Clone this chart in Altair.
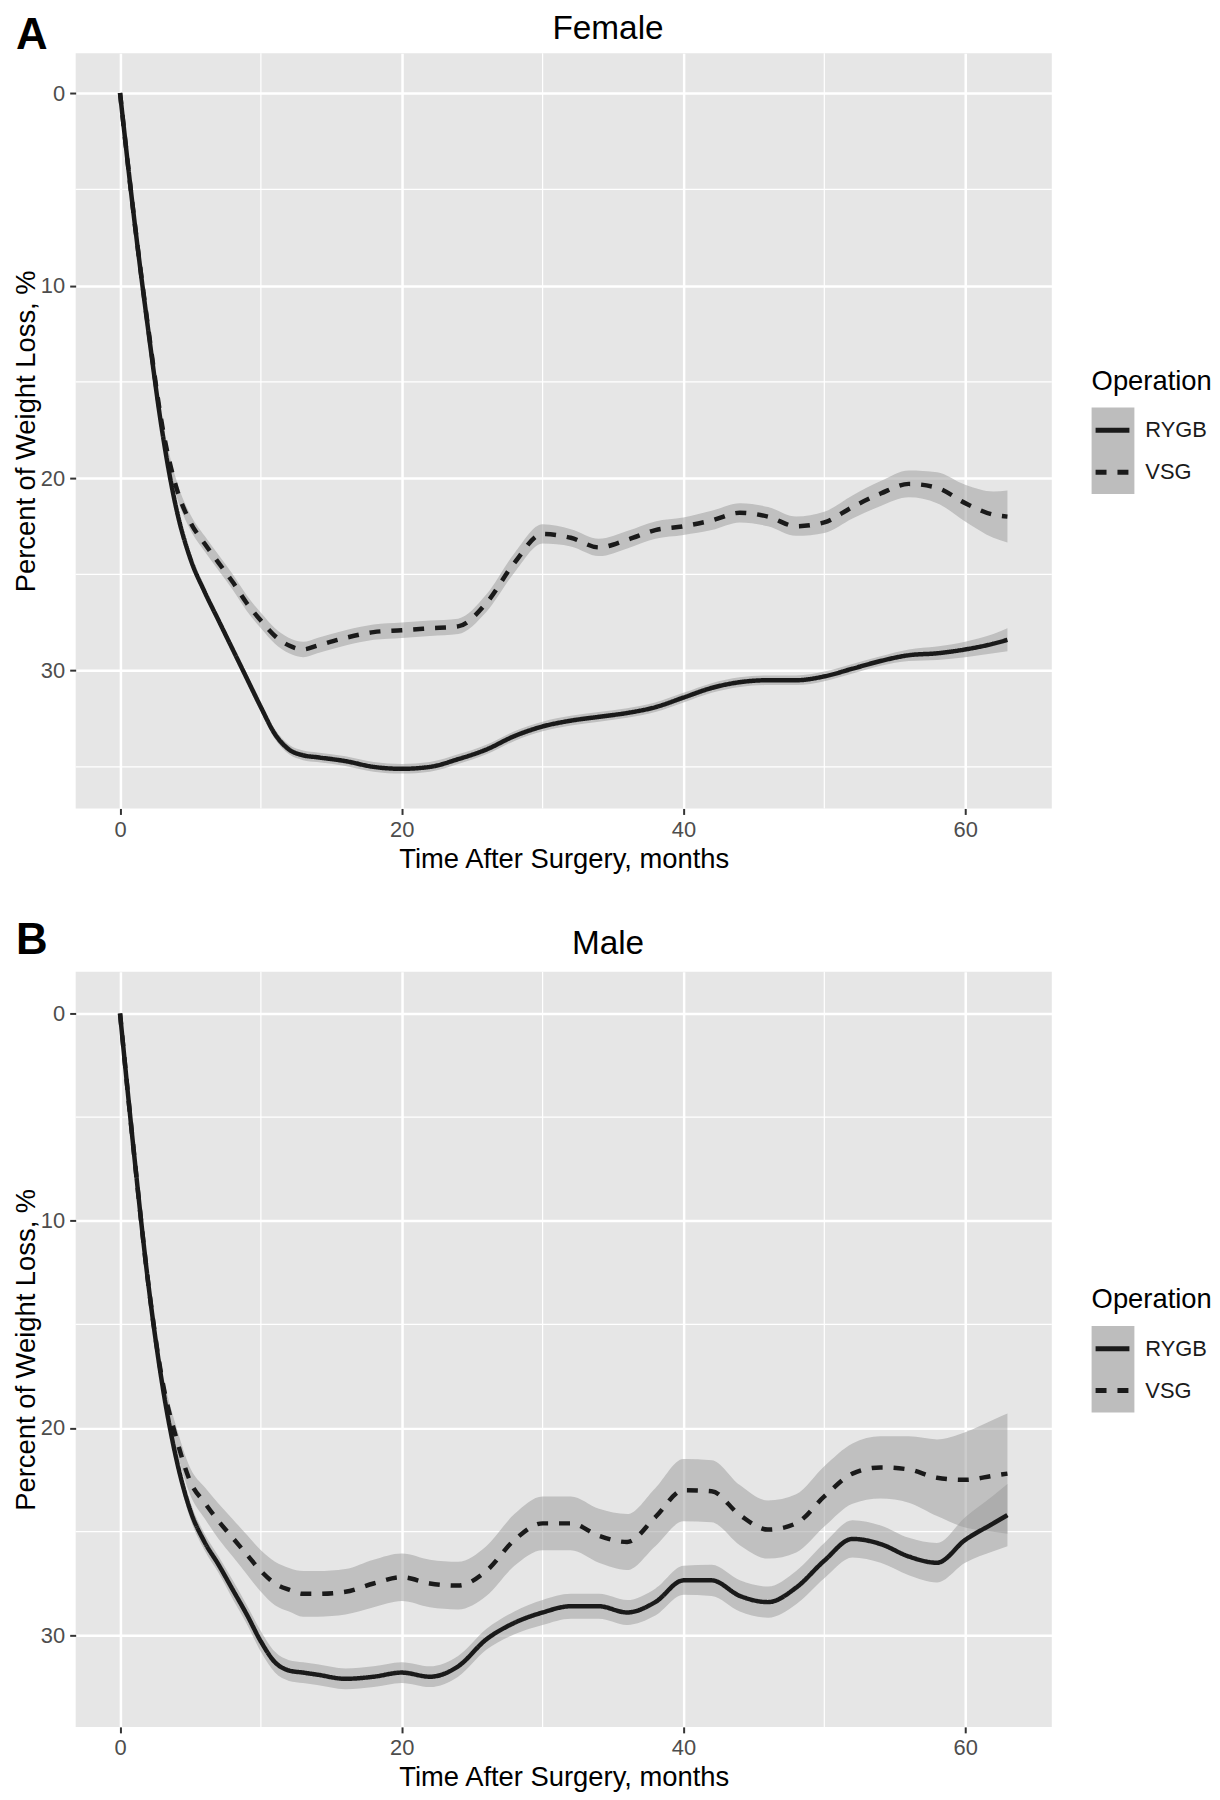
import altair as alt
import pandas as pd

# ---------------- data ----------------
months = [0, 1, 2, 3, 4, 5, 6, 7, 8, 9, 10, 11, 12, 13, 14,
          16, 18, 20, 22, 24, 26, 28, 30, 32, 34, 36, 38, 40, 42, 44,
          46, 48, 50, 52, 54, 56, 58, 60, 62, 63]

female_rygb = [0, 6.5, 12.3, 17.6, 21.6, 24.2, 25.9, 27.4, 28.9, 30.4,
               31.9, 33.3, 34.1, 34.4, 34.5,
               34.7, 35.0, 35.1, 35.0, 34.6, 34.1, 33.4, 32.9, 32.6, 32.4,
               32.2, 31.9, 31.4, 30.9, 30.6, 30.5, 30.5, 30.3, 29.9, 29.5,
               29.2, 29.1, 28.9, 28.6, 28.4]
female_rygb_se = [0.05, 0.15, 0.2, 0.2, 0.2, 0.2, 0.2, 0.2, 0.2, 0.25,
                  0.25, 0.25, 0.25, 0.25, 0.25,
                  0.25, 0.25, 0.25, 0.25, 0.25, 0.25, 0.25, 0.25, 0.25, 0.25,
                  0.25, 0.25, 0.25, 0.25, 0.25, 0.25, 0.25, 0.25, 0.25, 0.25,
                  0.3, 0.35, 0.4, 0.5, 0.6]
female_vsg = [0, 6.5, 12.2, 17.3, 20.5, 22.3, 23.4, 24.4, 25.4, 26.5,
              27.4, 28.2, 28.7, 28.9, 28.7,
              28.3, 28.0, 27.9, 27.8, 27.7, 26.5, 24.4, 22.9, 23.1, 23.6,
              23.2, 22.7, 22.5, 22.2, 21.8, 22.0, 22.5, 22.3, 21.5, 20.8,
              20.3, 20.5, 21.3, 21.9, 22.0]
female_vsg_se = [0.05, 0.2, 0.3, 0.35, 0.4, 0.4, 0.4, 0.4, 0.4, 0.4,
                 0.4, 0.4, 0.4, 0.4, 0.4,
                 0.4, 0.4, 0.4, 0.4, 0.4, 0.45, 0.5, 0.5, 0.45, 0.45,
                 0.45, 0.45, 0.45, 0.5, 0.5, 0.5, 0.5, 0.55, 0.6, 0.65,
                 0.7, 0.8, 0.95, 1.2, 1.35]

male_rygb = [0, 6.8, 13.0, 17.9, 21.5, 24.0, 25.5, 26.6, 27.8, 29.0,
             30.3, 31.3, 31.7, 31.8, 31.9,
             32.1, 32.0, 31.8, 32.0, 31.5, 30.2, 29.4, 28.9, 28.6, 28.6,
             28.9, 28.4, 27.35, 27.35, 28.1, 28.4, 27.7, 26.4, 25.35, 25.6,
             26.2, 26.5, 25.4, 24.6, 24.2]
male_rygb_se = [0.05, 0.2, 0.3, 0.3, 0.35, 0.4, 0.4, 0.4, 0.45, 0.45,
                0.5, 0.5, 0.5, 0.5, 0.5,
                0.5, 0.5, 0.5, 0.5, 0.5, 0.5, 0.55, 0.6, 0.6, 0.6,
                0.6, 0.65, 0.7, 0.75, 0.75, 0.75, 0.8, 0.85, 0.9, 0.9,
                0.9, 0.95, 1.1, 1.35, 1.5]
male_vsg = [0, 6.8, 13.0, 17.7, 20.5, 22.6, 23.6, 24.5, 25.3, 26.1,
            26.9, 27.5, 27.8, 28.0, 28.0,
            27.9, 27.5, 27.2, 27.5, 27.6, 26.9, 25.4, 24.6, 24.6, 25.2,
            25.5, 24.3, 23.0, 23.05, 24.2, 24.9, 24.6, 23.3, 22.2, 21.9,
            22.0, 22.4, 22.5, 22.3, 22.2]
male_vsg_se = [0.05, 0.2, 0.35, 0.45, 0.55, 0.65, 0.75, 0.85, 0.9, 0.95,
               1.0, 1.05, 1.05, 1.1, 1.1,
               1.1, 1.15, 1.15, 1.15, 1.15, 1.2, 1.25, 1.3, 1.3, 1.3,
               1.35, 1.4, 1.5, 1.5, 1.45, 1.4, 1.4, 1.45, 1.45, 1.5,
               1.6, 1.85, 2.3, 2.7, 2.9]

operations = ["RYGB", "VSG"]
x_ticks = [0, 20, 40, 60]
y_ticks = [0, 10, 20, 30]
x_minor = [10, 30, 50]
y_minor = [5, 15, 25, 35]

x_title = "Time After Surgery, months"
y_title = "Percent of Weight Loss, %"
legend_title = "Operation"

FONT = "Liberation Sans"
LINE = "#1a1a1a"


def make_df(rygb, rygb_se, vsg, vsg_se):
    rows = []
    for op, vals, se in (("RYGB", rygb, rygb_se), ("VSG", vsg, vsg_se)):
        for m, v, s in zip(months, vals, se):
            rows.append({"month": m, "value": v, "lo": v - s, "hi": v + s,
                         "operation": op})
    return pd.DataFrame(rows)


def panel(letter, title, df, ydomain):
    xscale = alt.Scale(domain=[-3.15, 66.15], nice=False, zero=False)
    yscale = alt.Scale(domain=ydomain, reverse=True, nice=False, zero=False)
    xaxis = alt.Axis(values=x_ticks, title=x_title, grid=True,
                     labelPadding=5, titlePadding=5)
    yaxis = alt.Axis(values=y_ticks, title=y_title, grid=True,
                     labelPadding=5, titlePadding=0)

    minor_x = alt.Chart(pd.DataFrame({"v": x_minor})).mark_rule(
        color="white", strokeWidth=1.2).encode(
        x=alt.X("v:Q", scale=xscale, axis=xaxis))
    minor_y = alt.Chart(pd.DataFrame({"v": y_minor})).mark_rule(
        color="white", strokeWidth=1.2).encode(
        y=alt.Y("v:Q", scale=yscale, axis=yaxis))

    base = alt.Chart(df)
    band = base.mark_area(color="#999999", opacity=0.5,
                          interpolate="monotone").encode(
        x=alt.X("month:Q", scale=xscale, axis=xaxis),
        y=alt.Y("lo:Q", scale=yscale, axis=yaxis),
        y2="hi:Q",
        detail="operation:N",
    )
    lines = base.mark_line(color=LINE, strokeWidth=4.5,
                           interpolate="monotone").encode(
        x=alt.X("month:Q", scale=xscale, axis=xaxis),
        y=alt.Y("value:Q", scale=yscale, axis=yaxis),
        strokeDash=alt.StrokeDash(
            "operation:N",
            scale=alt.Scale(domain=operations, range=[[1, 0], [11, 11]]),
            legend=None),
    )

    # panel letter and title
    letter_mark = alt.Chart(pd.DataFrame({"t": [letter["text"]]})).mark_text(
        font=FONT, fontSize=44, fontWeight="bold", color="black",
        align="center", baseline="alphabetic").encode(
        x=alt.value(-44), y=alt.value(letter["y"]), text="t:N")
    title_mark = alt.Chart(pd.DataFrame({"t": [title["text"]]})).mark_text(
        font=FONT, fontSize=33.5, color="black",
        align="center", baseline="alphabetic").encode(
        x=alt.value(535), y=alt.value(title["y"]), text="t:N")

    # hand-drawn ggplot style legend
    leg_box = alt.Chart(pd.DataFrame({"t": [legend_title]})).mark_rect(
        color="#bdbdbd").encode(
        x=alt.value(1021), x2=alt.value(1064),
        y=alt.value(356), y2=alt.value(443))
    leg_title = alt.Chart(pd.DataFrame({"t": [legend_title]})).mark_text(
        font=FONT, fontSize=27.5, color="black", align="left",
        baseline="middle").encode(
        x=alt.value(1021), y=alt.value(330), text="t:N")
    leg_layers = []
    key_y = [379, 421]
    dashes = [[1, 0], [11, 11]]
    leg_df = pd.DataFrame({"operation": operations})
    for i, op in enumerate(operations):
        sub = alt.Chart(leg_df).transform_filter(
            alt.datum.operation == op)
        leg_layers.append(sub.mark_rule(
            color=LINE, strokeWidth=5, strokeDash=dashes[i]).encode(
            x=alt.value(1025), x2=alt.value(1059), y=alt.value(key_y[i])))
        leg_layers.append(sub.mark_text(
            font=FONT, fontSize=22, color="#1a1a1a", align="left",
            baseline="middle").encode(
            x=alt.value(1075), y=alt.value(key_y[i]), text="operation:N"))

    return alt.layer(minor_x, minor_y, band, lines, letter_mark, title_mark,
                     leg_box, leg_title, *leg_layers).properties(
        width=981, height=759)


female_df = make_df(female_rygb, female_rygb_se, female_vsg, female_vsg_se)
male_df = make_df(male_rygb, male_rygb_se, male_vsg, male_vsg_se)

pa = panel({"text": "A", "y": -4}, {"text": "Female", "y": -14},
           female_df, [-2.07, 37.16])
pb = panel({"text": "B", "y": -18}, {"text": "Male", "y": -18},
           male_df, [-2.02, 34.42])

chart = alt.vconcat(pa, pb, spacing=164, bounds="flush").properties(
    padding={"left": 4, "top": 0, "right": 0, "bottom": 0}
).configure_view(
    stroke=None, fill="#E6E6E6"
).configure_axis(
    labelFont=FONT, titleFont=FONT, labelFontSize=22, labelColor="#4d4d4d",
    titleFontSize=27.5, titleFontWeight="normal", titleColor="black",
    tickColor="#333333", tickSize=6, tickWidth=2, domain=False,
    gridColor="white", gridWidth=2.5,
)

chart.save("out.html", embed_options={"renderer": "svg", "actions": False})
